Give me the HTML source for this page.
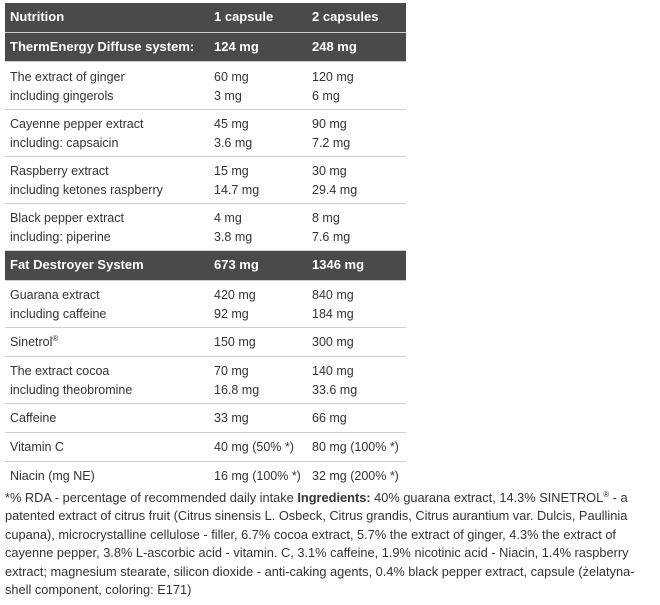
<!DOCTYPE html>
<html><head><style>
body{margin:0;width:660px;height:605px;background:#fff;font-family:"Liberation Sans",sans-serif;color:#333;position:relative;overflow:hidden}
.r{position:absolute;left:5px;width:401px;border-bottom:1px solid #d0d0d0}
.d{background:#4a4a4a;color:#fff;font-weight:bold;border-bottom:1px solid #ccc}
.c{position:absolute;font-size:12.5px;line-height:18.5px;white-space:nowrap}
.a{left:5px}.b{left:209px}.e{left:307px}
sup{font-size:8px;line-height:0;vertical-align:5px}
.f{position:absolute;left:5px;top:489px;width:650px;font-size:12.8px;line-height:18.4px}
</style></head><body>
<div class="r d" style="top:3px;height:29px"><div class="c a" style="top:5px;font-size:13px">Nutrition</div><div class="c b" style="top:5px;font-size:13px">1 capsule</div><div class="c e" style="top:5px;font-size:13px">2 capsules</div></div>
<div class="r d" style="top:33px;height:28px"><div class="c a" style="top:5px;font-size:13px">ThermEnergy Diffuse system:</div><div class="c b" style="top:5px;font-size:13px">124 mg</div><div class="c e" style="top:5px;font-size:13px">248 mg</div></div>
<div class="r" style="top:62px;height:47px"><div class="c a" style="top:6px">The extract of ginger<br>including gingerols</div><div class="c b" style="top:6px">60 mg<br>3 mg</div><div class="c e" style="top:6px">120 mg<br>6 mg</div></div>
<div class="r" style="top:110px;height:46px"><div class="c a" style="top:5px">Cayenne pepper extract<br>including: capsaicin</div><div class="c b" style="top:5px">45 mg<br>3.6 mg</div><div class="c e" style="top:5px">90 mg<br>7.2 mg</div></div>
<div class="r" style="top:157px;height:46px"><div class="c a" style="top:5px">Raspberry extract<br>including ketones raspberry</div><div class="c b" style="top:5px">15 mg<br>14.7 mg</div><div class="c e" style="top:5px">30 mg<br>29.4 mg</div></div>
<div class="r" style="top:204px;height:46px"><div class="c a" style="top:5px">Black pepper extract<br>including: piperine</div><div class="c b" style="top:5px">4 mg<br>3.8 mg</div><div class="c e" style="top:5px">8 mg<br>7.6 mg</div></div>
<div class="r d" style="top:251px;height:29px"><div class="c a" style="top:5px;font-size:13px">Fat Destroyer System</div><div class="c b" style="top:5px;font-size:13px">673 mg</div><div class="c e" style="top:5px;font-size:13px">1346 mg</div></div>
<div class="r" style="top:281px;height:46px"><div class="c a" style="top:5px">Guarana extract<br>including caffeine</div><div class="c b" style="top:5px">420 mg<br>92 mg</div><div class="c e" style="top:5px">840 mg<br>184 mg</div></div>
<div class="r" style="top:328px;height:28px"><div class="c a" style="top:5px">Sinetrol<sup>®</sup></div><div class="c b" style="top:5px">150 mg</div><div class="c e" style="top:5px">300 mg</div></div>
<div class="r" style="top:357px;height:46px"><div class="c a" style="top:5px">The extract cocoa<br>including theobromine</div><div class="c b" style="top:5px">70 mg<br>16.8 mg</div><div class="c e" style="top:5px">140 mg<br>33.6 mg</div></div>
<div class="r" style="top:404px;height:28px"><div class="c a" style="top:5px">Caffeine</div><div class="c b" style="top:5px">33 mg</div><div class="c e" style="top:5px">66 mg</div></div>
<div class="r" style="top:433px;height:28px"><div class="c a" style="top:5px">Vitamin C</div><div class="c b" style="top:5px">40 mg (50% *)</div><div class="c e" style="top:5px">80 mg (100% *)</div></div>
<div class="r" style="top:462px;height:28px;border-bottom:none"><div class="c a" style="top:5px">Niacin (mg NE)</div><div class="c b" style="top:5px">16 mg (100% *)</div><div class="c e" style="top:5px">32 mg (200% *)</div></div>
<div class="f">*% RDA - percentage of recommended daily intake <b>Ingredients:</b> 40% guarana extract, 14.3% SINETROL<sup>®</sup> - a patented extract of citrus fruit (Citrus sinensis L. Osbeck, Citrus grandis, Citrus aurantium var. Dulcis, Paullinia cupana), microcrystalline cellulose - filler, 6.7% cocoa extract, 5.7% the extract of ginger, 4.3% the extract of cayenne pepper, 3.8% L-ascorbic acid - vitamin. C, 3.1% caffeine, 1.9% nicotinic acid - Niacin, 1.4% raspberry extract; magnesium stearate, silicon dioxide - anti-caking agents, 0.4% black pepper extract, capsule (żelatyna-shell component, coloring: E171)</div>
</body></html>
